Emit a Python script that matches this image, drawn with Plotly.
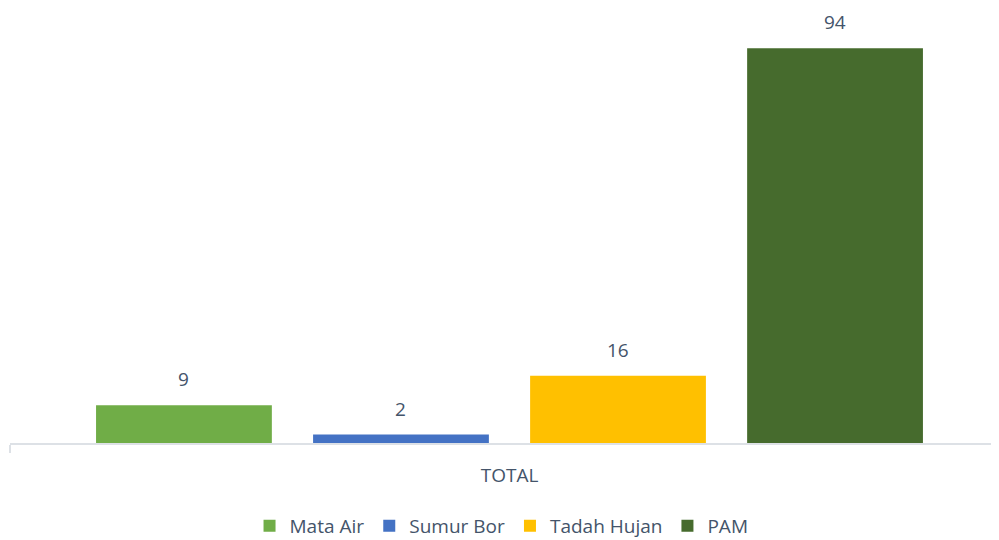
import plotly.graph_objects as go

categories = ["TOTAL"]
series_names = ["Mata Air", "Sumur Bor", "Tadah Hujan", "PAM"]
series_values = [9, 2, 16, 94]
series_colors = ["#70ad47", "#4472c4", "#ffc000", "#466b2d"]

BARGAP = 0.131
BARGROUPGAP = 0.19
n = len(series_names)

fig = go.Figure()
for name, val, col in zip(series_names, series_values, series_colors):
    fig.add_trace(go.Bar(
        x=categories, y=[val], name=name,
        marker=dict(color=col, line=dict(width=0)),
        hoverinfo="name+y",
    ))

slot = (1 - BARGAP) / n
for i, val in enumerate(series_values):
    fig.add_annotation(
        x=-(1 - BARGAP) / 2 + slot * (i + 0.5), y=val, xref="x", yref="y",
        text=str(val), showarrow=False, yanchor="bottom", yshift=11,
        font=dict(family="Open Sans", size=19, color="#44546a"),
    )

fig.update_layout(
    width=999, height=540,
    paper_bgcolor="white", plot_bgcolor="white",
    margin=dict(l=2, r=8, t=15, b=105, autoexpand=False),
    barmode="group", bargap=BARGAP, bargroupgap=BARGROUPGAP,
    font=dict(family="Open Sans", size=18, color="#44546a"),
    showlegend=True,
    legend=dict(orientation="h", x=0.497, xanchor="center", y=-0.152, yanchor="top",
                font=dict(size=19, color="#44546a"), traceorder="normal",
                itemwidth=30),
    xaxis=dict(range=[-0.5, 0.49], showline=True, linecolor="#dde1e6", linewidth=2,
               ticks="outside", tickson="boundaries", ticklen=8, tickcolor="#dde1e6",
               tickwidth=2, showgrid=False, automargin=False, ticklabelstandoff=14,
               tickfont=dict(size=19, color="#44546a")),
    yaxis=dict(range=[0, 100], visible=False, showgrid=False, automargin=False),
)

fig.write_html("out.html")
